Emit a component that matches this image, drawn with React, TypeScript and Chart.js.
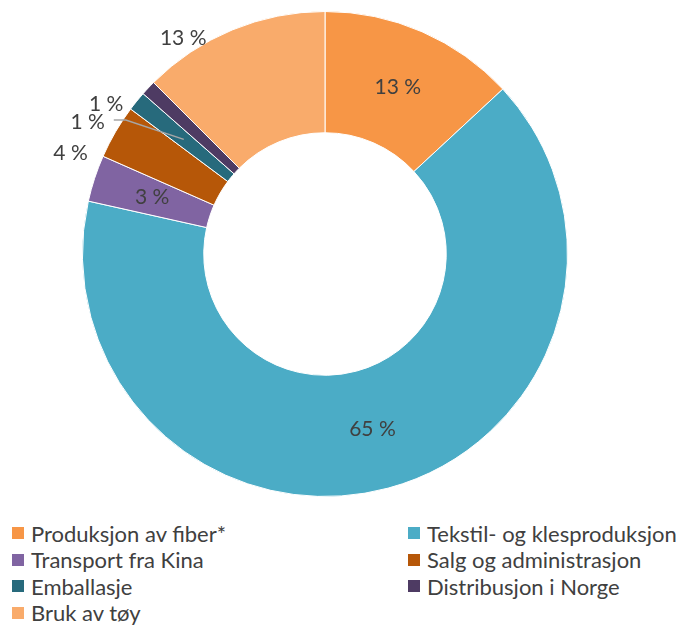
import React, { useEffect, useRef } from "react";
import { Chart, registerables } from "chart.js";

Chart.register(...registerables);

const categories = [
  "Produksjon av fiber*",
  "Tekstil- og klesproduksjon",
  "Transport fra Kina",
  "Salg og administrasjon",
  "Emballasje",
  "Distribusjon i Norge",
  "Bruk av tøy",
];
const shares = [13.1, 65.4, 3.1, 3.6, 1.3, 1.0, 12.5];
const colors = ["#F79646", "#4BACC6", "#8064A2", "#B65708", "#276A7C", "#4E3B63", "#F9AB6B"];

// label placement: inside (mid ring) or outside with radius factor & angle shift (deg)
const labelPlacement = [
  { inside: true },
  { inside: true },
  { inside: true },
  { inside: false, r: 1.128, dA: -8.7 },
  { inside: false, r: 1.12, dA: -10, leader: true },
  { inside: false, r: 1.094, dA: -8.8 },
  { inside: false, r: 1.065, dA: -10.8 },
];

const FONT = "Lato, 'Open Sans', sans-serif";
const TEXT = "#404040";

const labelPlugin = {
  id: "sliceLabels",
  afterDatasetsDraw(chart: any) {
    const ctx = chart.ctx;
    const meta = chart.getDatasetMeta(0);
    ctx.save();
    ctx.font = `21px ${FONT}`;
    ctx.textAlign = "center";
    ctx.textBaseline = "middle";
    meta.data.forEach((arc: any, i: number) => {
      const { x, y, startAngle, endAngle, innerRadius, outerRadius } = arc.getProps(
        ["x", "y", "startAngle", "endAngle", "innerRadius", "outerRadius"],
        true
      );
      const mid = (startAngle + endAngle) / 2;
      const p: any = labelPlacement[i];
      const text = `${Math.round(shares[i])} %`;
      const midR = (innerRadius + outerRadius) / 2;
      let lx: number, ly: number;
      if (p.inside) {
        lx = x + Math.cos(mid) * midR;
        ly = y + Math.sin(mid) * midR;
      } else {
        const a = mid + (p.dA * Math.PI) / 180;
        lx = x + Math.cos(a) * outerRadius * p.r;
        ly = y + Math.sin(a) * outerRadius * p.r;
      }
      if (p.leader) {
        const w = ctx.measureText(text).width;
        const sx = lx + w / 2 + 9;
        const sy = ly - 2;
        const ex = x + Math.cos(mid) * midR;
        const ey = y + Math.sin(mid) * midR;
        ctx.strokeStyle = "#A6A6A6";
        ctx.lineWidth = 1.5;
        ctx.beginPath();
        ctx.moveTo(sx, sy);
        ctx.lineTo(sx + 12, sy);
        ctx.lineTo(ex, ey);
        ctx.stroke();
      }
      ctx.fillStyle = TEXT;
      ctx.fillText(text, lx, ly);
    });
    ctx.restore();
  },
};

export default function App() {
  const ref = useRef<HTMLCanvasElement | null>(null);
  useEffect(() => {
    if (!ref.current) return;
    const chart = new Chart(ref.current, {
      type: "doughnut",
      data: {
        labels: categories,
        datasets: [
          {
            data: shares,
            backgroundColor: colors,
            borderColor: "#FFFFFF",
            borderWidth: 1,
            hoverOffset: 0,
            offset: 0,
          },
        ],
      },
      options: {
        animation: false,
        responsive: true,
        maintainAspectRatio: false,
        cutout: "50%",
        layout: { padding: 0 },
        plugins: {
          legend: { display: false },
          tooltip: { enabled: false },
        },
      },
      plugins: [labelPlugin],
    });
    return () => chart.destroy();
  }, []);

  const colLeft = [12, 408];
  return (
    <div style={{ position: "fixed", left: 0, top: 0, width: 682, height: 625, background: "#fff", overflow: "hidden" }}>
      <div style={{ position: "absolute", left: 0, top: 11, width: 650, height: 486 }}>
        <canvas ref={ref} />
      </div>
      {categories.map((c, i) => {
        const col = i % 2;
        const row = Math.floor(i / 2);
        return (
          <div
            key={c}
            style={{
              position: "absolute",
              left: colLeft[col],
              top: 520 + row * 26.5,
              height: 26,
              display: "flex",
              alignItems: "center",
              fontFamily: FONT,
              fontSize: 22,
              color: "#404040",
              whiteSpace: "nowrap",
            }}
          >
            <span style={{ display: "inline-block", width: 12, height: 12, background: colors[i], marginRight: 7 }} />
            <span>{c}</span>
          </div>
        );
      })}
    </div>
  );
}
